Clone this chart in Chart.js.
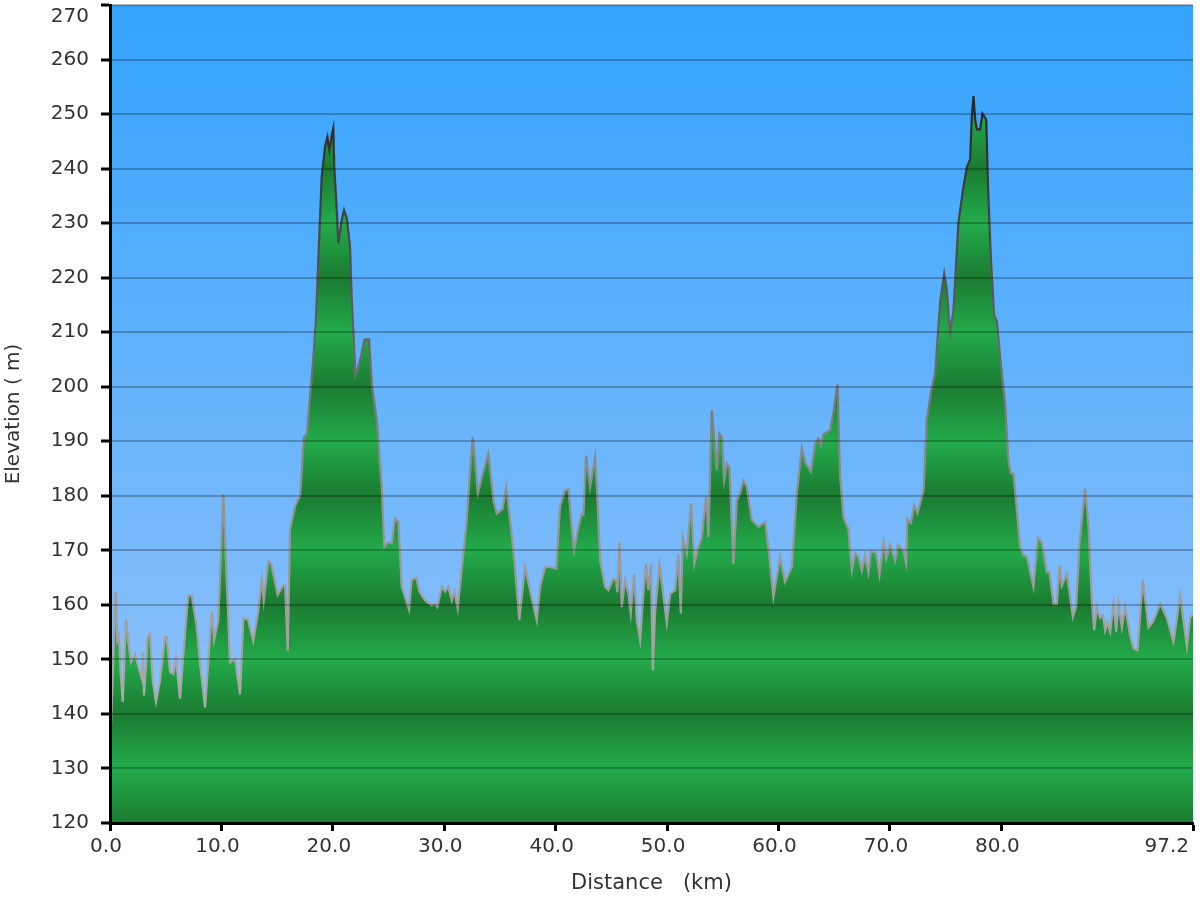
<!DOCTYPE html>
<html>
<head>
<meta charset="utf-8">
<title>Elevation profile</title>
<script src="https://cdn.jsdelivr.net/npm/chart.js@4.4.1/dist/chart.umd.min.js"></script>
<style>
  html, body { margin: 0; padding: 0; background: #fff; }
  #wrap { width: 1200px; height: 900px; }
</style>
</head>
<body>
<div id="wrap"><canvas id="profile" width="1200" height="900"></canvas></div>
<script>
// route profile, values
const distanceKm = [
  0, 0.51, 0.66, 0.81, 0.96, 1.14, 1.44, 1.64, 1.89, 2.24, 2.54, 2.85, 2.94, 3.05, 3.20, 3.38, 3.59, 3.83,
  4.13, 4.49, 4.94, 5.09, 5.39, 5.68, 5.92, 6.28, 6.73, 7.03, 7.33, 7.78, 8.08, 8.53, 8.91, 9.13, 9.34, 9.72,
  10.17, 10.77, 11.22, 11.67, 11.97, 12.36, 12.86, 13.31, 13.62, 13.80, 14.21, 14.45, 15.05, 15.56, 15.71, 15.95,
  16.16, 16.61, 17.06, 17.41, 17.66, 17.95, 18.25, 18.47, 18.70, 19.00, 19.30, 19.51, 19.69, 19.90, 20.04, 20.13,
  20.35, 20.49, 20.80, 21.01, 21.25, 21.54, 21.70, 22.04, 22.26, 22.49, 22.85, 23.25, 23.52, 23.94, 24.39, 24.62,
  24.98, 25.29, 25.58, 25.88, 26.18, 26.48, 26.84, 27.08, 27.47, 27.77, 28.28, 28.88, 29.17, 29.38, 29.78, 30.07,
  30.37, 30.67, 30.91, 31.21, 31.71, 32.02, 32.32, 32.56, 32.76, 33.01, 33.46, 33.96, 34.41, 34.71, 35.25, 35.55,
  35.91, 36.29, 36.74, 37.25, 37.70, 38.30, 38.60, 39.05, 39.50, 40.04, 40.39, 40.84, 41.14, 41.44, 41.65, 42.04,
  42.34, 42.49, 42.73, 43.09, 43.54, 43.69, 43.99, 44.43, 44.73, 45.18, 45.42, 45.54, 45.72, 45.93, 46.23, 46.53,
  46.74, 47.04, 47.28, 47.58, 47.87, 48.11, 48.32, 48.54, 48.72, 48.92, 49.31, 49.61, 49.97, 50.27, 50.72, 51.01,
  51.23, 51.41, 51.77, 52.15, 52.45, 52.81, 53.11, 53.50, 53.71, 54.01, 54.22, 54.46, 54.69, 54.91, 55.12, 55.36,
  55.59, 55.95, 56.26, 56.55, 56.85, 57.15, 57.60, 58.20, 58.80, 59.18, 59.54, 60.14, 60.59, 61.19, 61.64, 62.09,
  62.39, 62.90, 63.29, 63.58, 63.82, 64.03, 64.63, 64.93, 65.29, 65.53, 65.83, 66.27, 66.58, 66.88, 67.17, 67.48,
  67.77, 68.07, 68.29, 68.76, 69.06, 69.42, 69.66, 70.02, 70.47, 70.71, 71.21, 71.45, 71.57, 71.88, 72.17, 72.47,
  73.01, 73.31, 73.67, 74.06, 74.51, 74.87, 75.11, 75.40, 75.70, 76.15, 76.54, 76.90, 77.20, 77.35, 77.50, 77.65,
  77.80, 78.10, 78.30, 78.64, 78.84, 79.06, 79.35, 79.60, 79.89, 80.34, 80.64, 80.85, 81.09, 81.39, 81.69, 81.98,
  82.29, 82.88, 83.28, 83.64, 84.08, 84.32, 84.68, 84.98, 85.22, 85.43, 85.88, 86.42, 86.71, 87.01, 87.52, 87.82,
  88.12, 88.33, 88.57, 88.87, 89.11, 89.32, 89.52, 89.77, 90.06, 90.31, 90.51, 90.82, 91.11, 91.56, 91.86, 92.22,
  92.70, 93.20, 93.65, 94.25, 94.85, 95.45, 96.05, 96.65, 96.95, 97.2
];
const elevationM = [
  133, 162.3, 153.5, 154.4, 147.4, 142.2, 157.5, 153.2, 149.5, 150.9, 148.7, 146.5, 151.3, 143.4, 148, 154.1, 154.7, 146.2,
  142.2, 146.2, 154.1, 154.1, 147.7, 147.3, 150.1, 142.8, 154.7, 161.7, 161.7, 156, 149.2, 141.2, 152.3, 158.7, 153.5, 157.2,
  180.3, 149.4, 150.1, 143.6, 157.4, 157.4, 153.4, 158.9, 164.7, 160.7, 168, 167.6, 161.8, 163.6, 163.6, 151.6,
  173.8, 178.1, 180, 190.8, 191.2, 198.1, 205.4, 211.9, 223.5, 238.5, 244, 245.8, 243.4, 246.1, 247.4, 240.3,
  232.4, 226.3, 230.6, 232.4, 230.9, 225.7, 215.9, 202.1, 203.5, 205.2, 208.7, 208.7, 200, 193.9, 181.6, 170.6,
  171.5, 171.3, 175.8, 175.2, 163.3, 161.4, 159.1, 164.6, 165, 162.4, 160.8, 159.9, 160.2, 159.6, 163.3, 162.4,
  163.3, 160.8, 162.4, 159.3, 169.4, 175.5, 184.7, 190.8, 186.5, 180.4, 184.1, 187.7, 179.2, 176.7, 177.6, 181.6,
  175.5, 168.2, 157.2, 166.9, 162.6, 157.2, 163.3, 166.9, 166.9, 166.7, 178, 181, 181.2, 174.3, 170, 174.3,
  176.7, 176.5, 187.4, 181.6, 187.1, 181.6, 168.2, 163.3, 162.7, 164.8, 164.5, 162.3, 171.5, 159.6, 164.5, 162,
  158.4, 165.7, 157.2, 153.5, 162, 167.5, 162.7, 167.5, 148, 158.4, 167.5, 162.7, 156.6, 162, 162.7, 169.4,
  158.4, 172.4, 169.4, 178.6, 167.5, 170.6, 172.4, 179.8, 172.4, 195.7, 190.8, 184.7, 191.4, 190.8, 182.8, 185.9,
  185.3, 167.5, 179.2, 180.4, 182.8, 181.6, 175.5, 174.3, 175.2, 168.8, 161.4, 168.8, 164.2, 166.9, 180.4, 188.8,
  186.2, 184.4, 189.5, 190.6, 189.1, 191.3, 192, 195.3, 200.4, 183.7, 176, 173.9, 166.3, 169.5, 168.8, 166.3,
  169.2, 165.9, 169.9, 169.5, 165.5, 171.6, 168.4, 171, 168.1, 171, 169.9, 167.7, 175.7, 175, 178.2, 176.8,
  180.8, 193.8, 198.9, 202.5, 215.6, 220.7, 217.8, 209.8, 214.1, 230.1, 235.9, 240.3, 241.7, 249.7, 253.3, 249,
  247.2, 247.2, 250.1, 249, 234.5, 223.6, 213.1, 212, 205.4, 196.7, 186.5, 184.1, 184.1, 177.3, 170.6, 169.1,
  168.8, 163.3, 172.4, 171.3, 166, 166, 160.2, 160.2, 167.2, 163.5, 165.7, 157.8, 159.7, 171.2, 181.3, 174.3,
  160.8, 155.3, 159.5, 157.6, 158.1, 155.3, 156.7, 155, 160.2, 155, 160.2, 155.8, 159.7, 154.4, 152, 151.7,
  164.5, 155.8, 157, 160.2, 157.6, 153.2, 161.7, 152.3, 157.6, 158.4
];
const xTickValues = [0, 10, 20, 30, 40, 50, 60, 70, 80, 97.2];
const yMin = 120, yMax = 270, yStep = 10;

const BAND_DARK = '#1b7b31';
const BAND_LIGHT = '#23ab4b';
const tickFont = { family: 'DejaVu Sans, Verdana, sans-serif', size: 20 };
const titleFont = { family: 'DejaVu Sans, Verdana, sans-serif', size: 21 };
const textColor = '#333';

// green bands: dark on every 20 m line, bright half way between
function bandFill(context) {
  const chart = context.chart;
  if (!chart.chartArea) return null;
  const y = chart.scales.y;
  const g = chart.ctx.createLinearGradient(0, y.getPixelForValue(yMin), 0, y.getPixelForValue(yMax));
  for (let v = yMin; v <= yMax; v += yStep) {
    g.addColorStop((v - yMin) / (yMax - yMin), ((v - yMin) / yStep) % 2 ? BAND_LIGHT : BAND_DARK);
  }
  return g;
}

// outline goes from light grey in the valleys to near black on the summits
function outlineStroke(context) {
  const chart = context.chart;
  if (!chart.chartArea) return null;
  const y = chart.scales.y;
  const g = chart.ctx.createLinearGradient(0, y.getPixelForValue(140), 0, y.getPixelForValue(250));
  g.addColorStop(0, '#ababab');
  g.addColorStop(0.4, '#8e8e8e');
  g.addColorStop(0.7, '#585858');
  g.addColorStop(1, '#2a2a2a');
  return g;
}

const skyPlugin = {
  id: 'sky',
  beforeDraw(chart) {
    const { ctx, chartArea: a } = chart;
    const g = ctx.createLinearGradient(0, a.top, 0, a.bottom);
    g.addColorStop(0, '#33a3ff');
    g.addColorStop(1, '#9cc5f8');
    ctx.save();
    ctx.fillStyle = g;
    ctx.fillRect(a.left, a.top, a.right - a.left, a.bottom - a.top);
    ctx.restore();
  }
};

new Chart(document.getElementById('profile'), {
  type: 'line',
  data: {
    datasets: [{
      data: distanceKm.map((d, i) => ({ x: d, y: elevationM[i] })),
      fill: 'start',
      backgroundColor: bandFill,
      borderColor: outlineStroke,
      borderWidth: 2.2,
      pointRadius: 0,
      tension: 0
    }]
  },
  options: {
    responsive: false,
    animation: false,
    layout: { padding: { top: 5, right: 7, left: 0, bottom: 0 }, autoPadding: false },
    plugins: { legend: { display: false }, tooltip: { enabled: false } },
    scales: {
      x: {
        type: 'linear',
        min: 0,
        max: 97.2,
        afterBuildTicks: s => { s.ticks = xTickValues.map(v => ({ value: v })); },
        afterFit: s => { s.height = 77; s.paddingLeft = 0; s.paddingRight = 0; },
        grid: { drawOnChartArea: false, tickLength: 8, tickColor: '#000', tickWidth: 3 },
        border: { color: '#000', width: 3, z: 2 },
        ticks: {
          font: tickFont, color: textColor, padding: 4, labelOffset: -4, maxRotation: 0, autoSkip: false,
          // last label is pushed left so it stays inside the picture
          callback: v => v === 97.2 ? '97.2       ' : v.toFixed(1)
        },
        title: { display: true, text: 'Distance   (km)', font: titleFont, color: textColor, padding: { top: 0, bottom: 4 } }
      },
      y: {
        min: yMin,
        max: yMax,
        afterFit: s => { s.width = 110; s.paddingTop = 0; s.paddingBottom = 0; },
        grid: { color: 'rgba(0,0,0,0.25)', lineWidth: 2, z: 1, tickLength: 9, tickColor: '#000', tickWidth: 3 },
        border: { color: '#000', width: 3, z: 2 },
        ticks: {
          stepSize: yStep, font: tickFont, color: textColor, padding: 12,
          callback: v => v === yMax ? ['', String(v)] : String(v)
        },
        title: { display: true, text: 'Elevation ( m)', font: tickFont, color: textColor, padding: { top: 2, bottom: 0 } }
      }
    }
  },
  plugins: [skyPlugin]
});
</script>
</body>
</html>
